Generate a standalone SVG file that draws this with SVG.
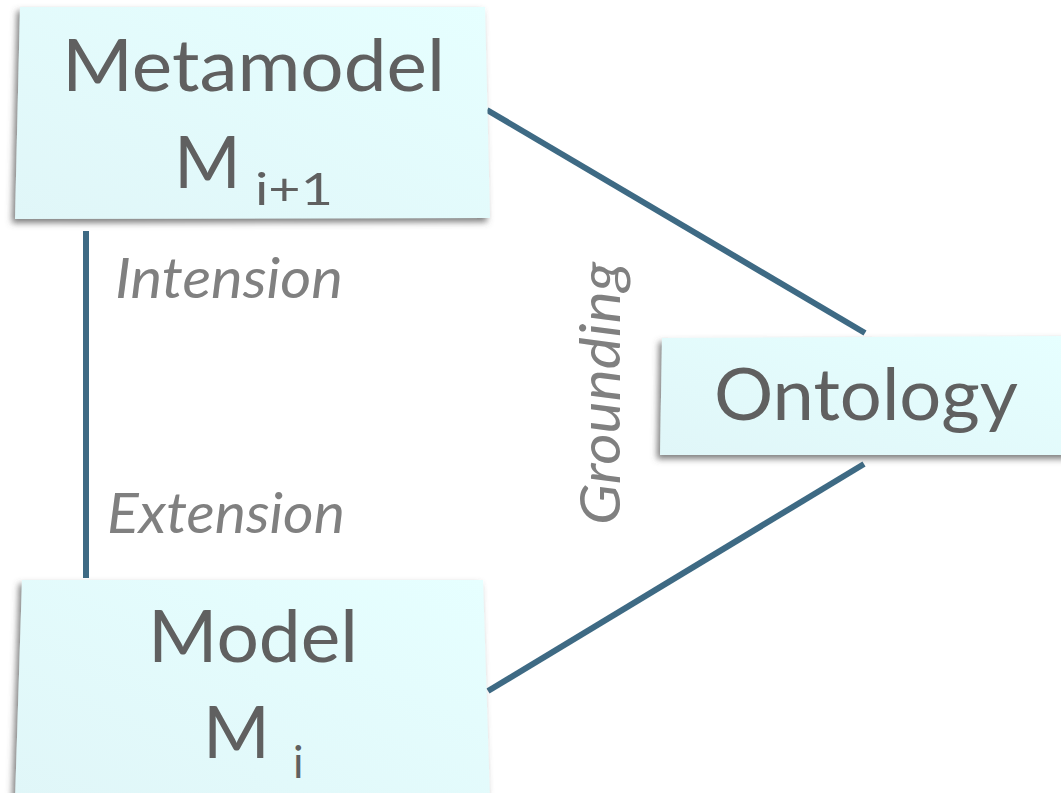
<svg xmlns="http://www.w3.org/2000/svg" width="1061" height="793" viewBox="0 0 1061 793">
  <defs>
    <linearGradient id="boxFill" x1="0" y1="1" x2="1" y2="0">
      <stop offset="0" stop-color="#e0f6f8"/>
      <stop offset="1" stop-color="#e6ffff"/>
    </linearGradient>
    <filter id="shadow" x="-10%" y="-10%" width="120%" height="125%">
      <feGaussianBlur in="SourceAlpha" stdDeviation="3"/>
      <feOffset dx="-3" dy="4" result="blur"/>
      <feFlood flood-color="#555" flood-opacity="0.75"/>
      <feComposite in2="blur" operator="in"/>
      <feMerge>
        <feMergeNode/>
        <feMergeNode in="SourceGraphic"/>
      </feMerge>
    </filter>
  </defs>
  <style>
    .box { fill: url(#boxFill); filter: url(#shadow); }
    .name { font-family: Lato, "Open Sans", "Liberation Sans", sans-serif; fill: #606060; }
    .edge { stroke: #3e6a84; stroke-width: 6; fill: none; }
    .label { font-family: Lato, "Open Sans", "Liberation Sans", sans-serif; font-style: italic; fill: #808080; font-size: 56px; }
  </style>

  <rect width="1061" height="793" fill="#ffffff"/>

  <!-- connectors -->
  <g id="connectors">
    <line class="edge" x1="86" y1="231" x2="86" y2="578"/>
    <line class="edge" x1="487" y1="110" x2="865" y2="333"/>
    <line class="edge" x1="864" y1="464" x2="488" y2="691"/>
    <text class="label" x="115" y="298" textLength="228" lengthAdjust="spacingAndGlyphs">Intension</text>
    <text class="label" x="107" y="533" textLength="238" lengthAdjust="spacingAndGlyphs">Extension</text>
    <text class="label" transform="translate(620,525) rotate(-90)" x="0" y="0" textLength="263" lengthAdjust="spacingAndGlyphs">Grounding</text>
  </g>

  <!-- metamodel node -->
  <g id="metamodel">
    <polygon class="box" points="20,7 485,7 490,218 15,219"/>
    <text class="name" x="62" y="91" font-size="72" textLength="383" lengthAdjust="spacingAndGlyphs">Metamodel</text>
    <text class="name" x="174" y="188" font-size="72">M</text>
    <text class="name" x="255" y="205" font-size="44" textLength="78" lengthAdjust="spacingAndGlyphs">i+1</text>
  </g>

  <!-- ontology node -->
  <g id="ontology">
    <polygon class="box" points="662,338 1070,336 1070,455 660,455"/>
    <text class="name" x="714" y="420" font-size="72" textLength="304" lengthAdjust="spacingAndGlyphs">Ontology</text>
  </g>

  <!-- model node -->
  <g id="model">
    <polygon class="box" points="22,580 483,580 490,800 15,800"/>
    <text class="name" x="148" y="662" font-size="72" textLength="210" lengthAdjust="spacingAndGlyphs">Model</text>
    <text class="name" x="203" y="758" font-size="72">M</text>
    <text class="name" x="293" y="778" font-size="44">i</text>
  </g>
</svg>
